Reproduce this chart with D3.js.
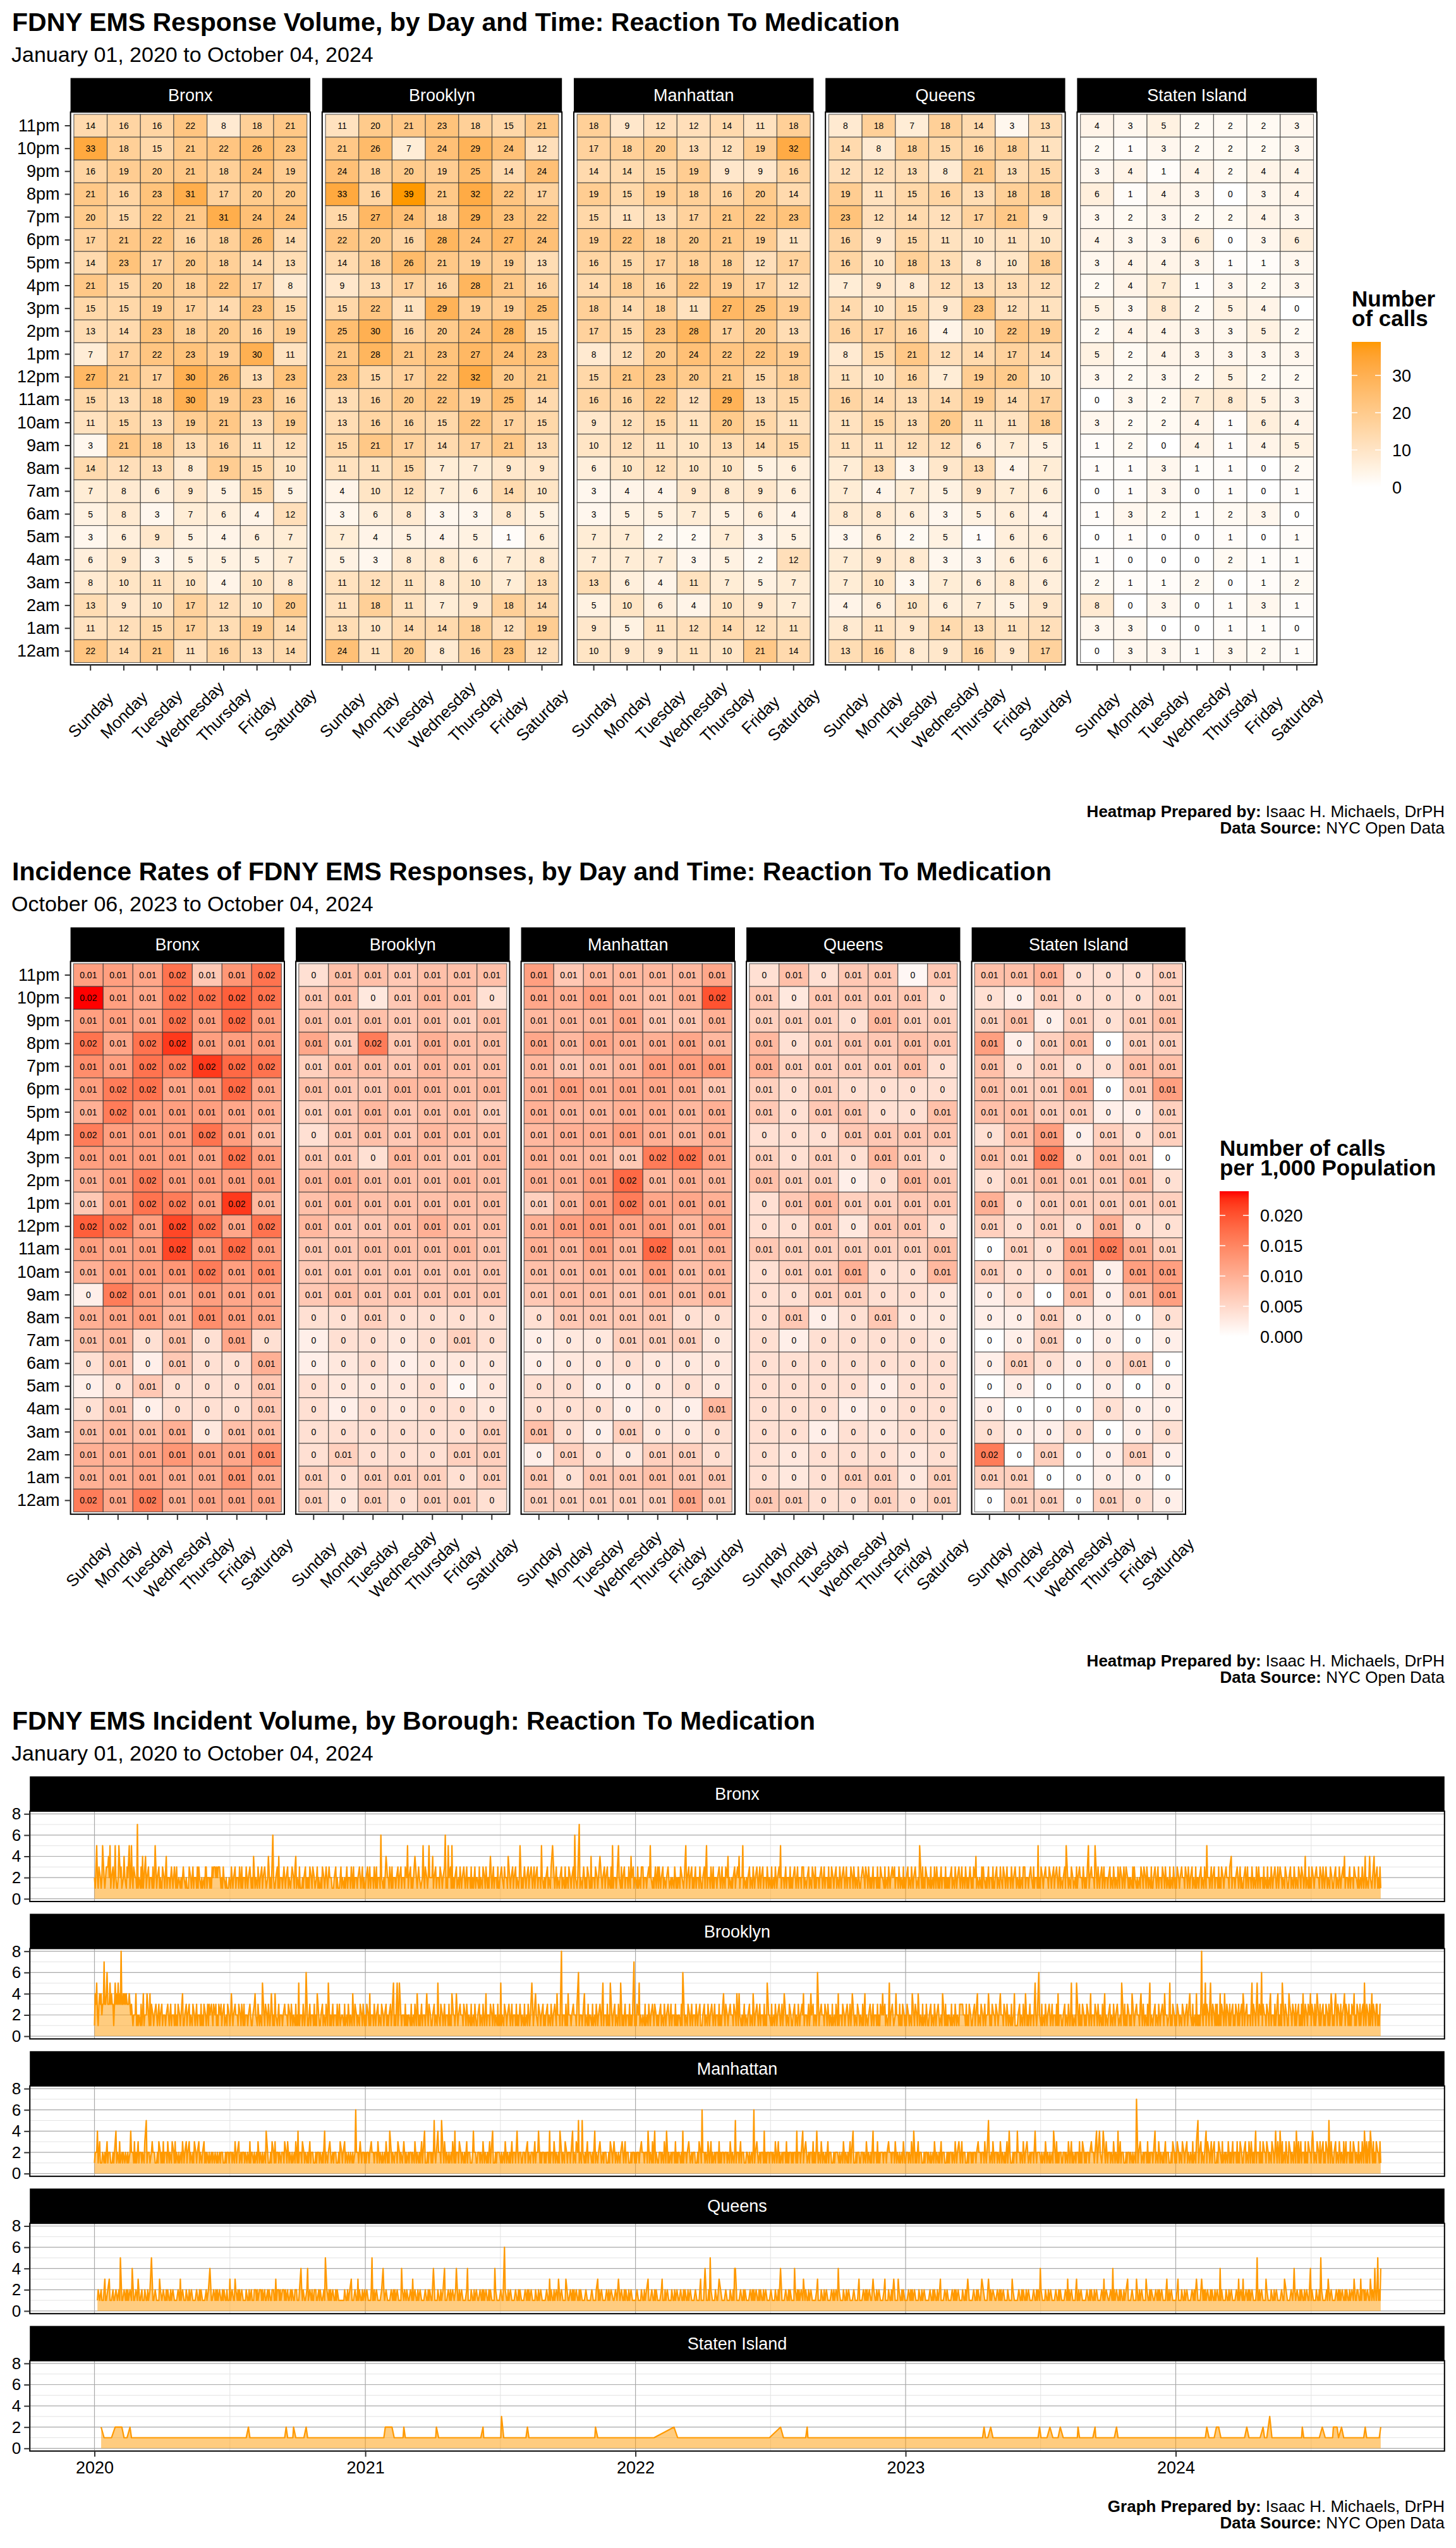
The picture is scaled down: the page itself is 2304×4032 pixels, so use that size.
<!DOCTYPE html>
<html>
<head>
<meta charset="utf-8">
<script src="https://cdn.jsdelivr.net/npm/d3@7"></script>
<style>
  body { margin: 0; background: #fff; }
  svg { display: block; }
  svg text { font-family: "Liberation Sans", Arial, Helvetica, sans-serif; }
</style>
</head>
<body>
<svg></svg>
<script>
// ---------- data ----------
const boroughs = ['Bronx', 'Brooklyn', 'Manhattan', 'Queens', 'Staten Island']
const dayLabels = ['Sunday', 'Monday', 'Tuesday', 'Wednesday', 'Thursday', 'Friday', 'Saturday']
// rows run top to bottom, 11pm first
const hourLabels = ['11pm', '10pm', '9pm', '8pm', '7pm', '6pm', '5pm', '4pm', '3pm', '2pm', '1pm', '12pm',
                    '11am', '10am', '9am', '8am', '7am', '6am', '5am', '4am', '3am', '2am', '1am', '12am']

// number of calls, Jan 2020 - Oct 2024
const countsBronx = [
  [14,16,16,22,8,18,21],[33,18,15,21,22,26,23],[16,19,20,21,18,24,19],[21,16,23,31,17,20,20],
  [20,15,22,21,31,24,24],[17,21,22,16,18,26,14],[14,23,17,20,18,14,13],[21,15,20,18,22,17,8],
  [15,15,19,17,14,23,15],[13,14,23,18,20,16,19],[7,17,22,23,19,30,11],[27,21,17,30,26,13,23],
  [15,13,18,30,19,23,16],[11,15,13,19,21,13,19],[3,21,18,13,16,11,12],[14,12,13,8,19,15,10],
  [7,8,6,9,5,15,5],[5,8,3,7,6,4,12],[3,6,9,5,4,6,7],[6,9,3,5,5,5,7],
  [8,10,11,10,4,10,8],[13,9,10,17,12,10,20],[11,12,15,17,13,19,14],[22,14,21,11,16,13,14]
]
const countsBrooklyn = [
  [11,20,21,23,18,15,21],[21,26,7,24,29,24,12],[24,18,20,19,25,14,24],[33,16,39,21,32,22,17],
  [15,27,24,18,29,23,22],[22,20,16,28,24,27,24],[14,18,26,21,19,19,13],[9,13,17,16,28,21,16],
  [15,22,11,29,19,19,25],[25,30,16,20,24,28,15],[21,28,21,23,27,24,23],[23,15,17,22,32,20,21],
  [13,16,20,22,19,25,14],[13,16,16,15,22,17,15],[15,21,17,14,17,21,13],[11,11,15,7,7,9,9],
  [4,10,12,7,6,14,10],[3,6,8,3,3,8,5],[7,4,5,4,5,1,6],[5,3,8,8,6,7,8],
  [11,12,11,8,10,7,13],[11,18,11,7,9,18,14],[13,10,14,14,18,12,19],[24,11,20,8,16,23,12]
]
const countsManhattan = [
  [18,9,12,12,14,11,18],[17,18,20,13,12,19,32],[14,14,15,19,9,9,16],[19,15,19,18,16,20,14],
  [15,11,13,17,21,22,23],[19,22,18,20,21,19,11],[16,15,17,18,18,12,17],[14,18,16,22,19,17,12],
  [18,14,18,11,27,25,19],[17,15,23,28,17,20,13],[8,12,20,24,22,22,19],[15,21,23,20,21,15,18],
  [16,16,22,12,29,13,15],[9,12,15,11,20,15,11],[10,12,11,10,13,14,15],[6,10,12,10,10,5,6],
  [3,4,4,9,8,9,6],[3,5,5,7,5,6,4],[7,7,2,2,7,3,5],[7,7,7,3,5,2,12],
  [13,6,4,11,7,5,7],[5,10,6,4,10,9,7],[9,5,11,12,14,12,11],[10,9,9,11,10,21,14]
]
const countsQueens = [
  [8,18,7,18,14,3,13],[14,8,18,15,16,18,11],[12,12,13,8,21,13,15],[19,11,15,16,13,18,18],
  [23,12,14,12,17,21,9],[16,9,15,11,10,11,10],[16,10,18,13,8,10,18],[7,9,8,12,13,13,12],
  [14,10,15,9,23,12,11],[16,17,16,4,10,22,19],[8,15,21,12,14,17,14],[11,10,16,7,19,20,10],
  [16,14,13,14,19,14,17],[11,15,13,20,11,11,18],[11,11,12,12,6,7,5],[7,13,3,9,13,4,7],
  [7,4,7,5,9,7,6],[8,8,6,3,5,6,4],[3,6,2,5,1,6,6],[7,9,8,3,3,6,6],
  [7,10,3,7,6,8,6],[4,6,10,6,7,5,9],[8,11,9,14,13,11,12],[13,16,8,9,16,9,17]
]
const countsStaten = [
  [4,3,5,2,2,2,3],[2,1,3,2,2,2,3],[3,4,1,4,2,4,4],[6,1,4,3,0,3,4],
  [3,2,3,2,2,4,3],[4,3,3,6,0,3,6],[3,4,4,3,1,1,3],[2,4,7,1,3,2,3],
  [5,3,8,2,5,4,0],[2,4,4,3,3,5,2],[5,2,4,3,3,3,3],[3,2,3,2,5,2,2],
  [0,3,2,7,8,5,3],[3,2,2,4,1,6,4],[1,2,0,4,1,4,5],[1,1,3,1,1,0,2],
  [0,1,3,0,1,0,1],[1,3,2,1,2,3,0],[0,1,0,0,1,0,1],[1,0,0,0,2,1,1],
  [2,1,1,2,0,1,2],[8,0,3,0,1,3,1],[3,3,0,0,1,1,0],[0,3,3,1,3,2,1]
]

// calls per 1,000 population, Oct 2023 - Oct 2024, in thousandths (estimated from the shading)
const ratesBronx = [
  [12,12,11,17,7,13,17],[24,12,11,17,17,19,17],[12,12,11,17,12,18,12],[17,11,17,22,12,12,12],
  [14,12,17,16,22,18,17],[12,16,17,11,12,18,11],[10,16,12,12,12,11,10],[16,12,12,12,17,12,8],
  [12,12,12,12,11,17,12],[10,12,16,12,12,12,12],[7,12,17,16,12,22,9],[19,17,12,21,17,11,17],
  [12,11,12,21,12,18,12],[10,12,12,13,16,12,14],[2,16,12,10,12,11,11],[10,11,12,9,14,12,11],
  [8,9,4,8,4,11,4],[4,7,2,7,4,4,10],[2,4,7,4,4,4,7],[4,7,2,4,4,4,7],
  [8,9,8,10,3,8,8],[10,10,11,13,11,11,14],[10,10,11,10,10,13,10],[16,11,16,10,11,11,11]
]
const ratesBrooklyn = [
  [4,8,8,7,8,8,8],[7,8,3,7,9,8,4],[8,7,8,7,8,6,8],[11,6,16,7,10,8,8],
  [6,8,8,7,9,8,8],[8,7,7,9,9,8,9],[6,7,9,7,8,8,6],[4,7,8,7,9,8,8],
  [7,7,4,9,8,7,9],[9,10,8,8,8,9,8],[8,9,8,8,8,8,8],[9,7,7,8,10,8,8],
  [7,7,8,8,8,9,7],[7,7,7,7,7,7,7],[7,8,7,7,7,7,7],[4,4,6,4,4,4,4],
  [2,4,4,3,4,6,4],[2,3,4,2,3,3,3],[4,3,3,3,4,1,3],[4,2,4,3,4,4,3],
  [4,4,4,4,4,4,6],[4,6,4,4,4,6,6],[6,4,6,6,6,4,6],[6,3,6,4,6,6,4]
]
const ratesManhattan = [
  [12,7,9,9,9,9,11],[11,10,12,9,8,10,20],[9,9,9,11,7,7,10],[11,9,11,10,10,11,9],
  [9,7,8,9,12,12,13],[10,12,10,11,11,10,7],[10,9,9,10,10,9,10],[9,10,10,12,10,9,10],
  [10,9,9,7,16,17,11],[10,10,12,18,9,10,9],[6,9,12,16,11,11,10],[10,12,13,11,12,9,11],
  [10,9,12,9,18,9,10],[8,8,9,8,12,8,9],[7,8,8,7,9,8,9],[4,7,7,7,7,4,4],
  [2,3,3,6,6,6,3],[2,3,3,4,3,3,3],[4,4,2,2,3,4,3],[4,4,4,2,3,2,9],
  [8,4,2,6,3,3,4],[2,6,4,3,6,6,4],[7,4,7,7,8,7,7],[6,6,6,6,6,11,6]
]
const ratesQueens = [
  [4,8,4,7,7,1,7],[7,3,7,7,7,7,4],[6,6,6,4,9,6,6],[9,4,6,7,7,8,7],
  [10,6,6,6,6,8,4],[6,4,6,4,4,4,4],[7,4,7,7,4,4,8],[4,4,4,7,7,7,7],
  [6,4,6,4,9,6,4],[8,6,6,2,4,9,7],[4,7,9,6,6,7,7],[4,4,7,3,7,7,4],
  [7,6,6,6,6,6,8],[4,6,6,10,4,4,9],[4,4,6,6,4,4,3],[4,7,2,4,7,3,3],
  [4,2,4,4,4,4,3],[4,4,4,4,4,4,4],[4,4,4,4,2,4,4],[4,4,4,2,3,4,4],
  [4,4,2,4,3,4,4],[4,3,4,4,4,3,4],[4,3,4,6,6,3,6],[7,6,4,4,6,4,6]
]
const ratesStaten = [
  [8,8,10,4,4,4,6],[4,2,6,4,4,4,6],[6,8,2,6,4,6,8],[12,2,6,8,0,6,6],
  [8,4,6,4,4,8,8],[8,6,6,10,0,6,12],[8,8,6,6,2,2,6],[4,8,12,2,6,4,6],
  [8,6,16,4,8,6,0],[4,6,8,6,6,8,4],[10,4,6,6,6,6,6],[6,4,6,4,10,4,4],
  [0,6,4,12,16,10,6],[6,4,4,10,2,12,12],[2,4,0,8,2,8,12],[2,2,6,2,2,0,4],
  [0,2,6,0,2,0,2],[2,6,4,2,4,6,0],[0,2,0,0,2,0,2],[2,0,0,0,4,2,2],
  [4,2,2,4,0,2,4],[16,0,6,0,2,6,2],[6,6,0,0,2,2,0],[0,6,6,0,6,4,2]
]

// daily incident counts, one string per month from Jan 2020 to Oct 2024 (0 = no incident that day)
const dailyBronx = [
  '21052 13021 25021 23034 25120 31252 1', '12502 31024 20132 05125 21302 2171', '20131 41204 12031 20213 12501 20312 1',
  '13021 04120 21032 12301 31020 12103', '20121 01302 10312 02131 32012 10213 3', '12021 21323 03232 30321 21320 12101',
  '20130 12031 20213 01312 02132 12032 1', '21401 20130 12031 20321 02401 21062 1', '12031 41202 10321 20312 01230 21341',
  '20131 01212 03121 21302 13021 02312 1', '12130 21032 10320 21012 03121 01231', '20121 03120 21301 31202 12032 10312 1',
  '12031 03120 21301 31202 16201 21040 2', '21301 31202 12031 20312 02130 251', '20312 12040 21232 01025 21302 12520 2',
  '24120 31202 13021 20361 21520 31512', '12031 02130 12032 10312 02131 21031 2', '20131 20130 21321 21040 10312 02131',
  '12032 01320 21402 12031 20312 01250 1', '21230 12031 20321 03120 31202 15201 2', '12031 20130 50212 31201 20312 01312',
  '21302 12031 62012 07120 12301 21302 1', '14120 21302 12040 21203 12031 20131', '51202 12052 01312 03120 21301 42031 2',
  '20131 02130 31202 12032 52012 10312 3', '13012 03120 12032 10212 01301 212', '21302 01205 12031 20312 10312 02130 1',
  '12031 05120 21301 31202 12032 10312', '21302 41201 21203 12032 41202 51201 2', '12031 20130 12032 10312 03120 21301',
  '20131 02130 12032 51202 10312 02131 2', '12032 10312 02130 31201 20312 01302 1', '31202 12032 10312 02131 21302 12031',
  '20130 12032 10312 02130 21301 20130 1', '12030 21302 13012 10312 02131 21302', '20131 02130 12032 03120 21301 20131 2',
  '12031 20130 12032 10215 02131 21302 1', '20131 02130 13012 10312 02131 212', '12031 20130 12032 10312 21301 21032 1',
  '21302 41201 20131 32012 10312 02131', '12031 20132 01302 10312 02130 12032 1', '20131 02130 31202 12032 01312 02151',
  '21302 12032 02130 21203 12032 10312 0', '12031 50212 01302 10213 12032 02130 1', '21205 12032 02150 21301 20312 31202',
  '12031 20130 12013 21302 10312 30212 1', '20131 32012 10213 02130 21301 20131', '12032 10312 02130 21301 20131 02132 1',
  '21302 12032 02130 21301 20312 01312 2', '12031 20130 15202 10312 03120 2131', '21302 12032 02130 41202 12032 10312 1',
  '12031 03120 21301 20130 13012 02131', '20131 02130 12032 10312 30212 01302 1', '12031 20130 12013 02130 21241 20131',
  '21302 12032 02130 21301 23012 01302 1', '12031 20130 12032 41202 10312 02130 2', '20131 02130 12412 01242 01204 12031',
  '2131'
]
const dailyBrooklyn = [
  '14352 13434 23373 34633 35343 31353 4', '35343 83343 43433 34323 21202 4121', '20131 24120 24021 41302 12032 10312 0',
  '31202 12032 10312 02131 21302 12041', '12031 20312 01302 10312 02131 21302 1', '23132 03213 02312 13023 12031 02130',
  '21240 12032 02130 21301 31202 12032 1', '12034 20130 12015 02130 21301 24012 1', '42012 31202 12032 02130 21301 20131',
  '21512 02130 12601 10312 02131 21402 1', '12031 20130 15012 10312 02131 23102', '20131 02130 12014 21302 12013 02130 1',
  '21302 14120 21301 20312 01302 12031 2', '12031 20512 10512 50212 02131 212', '20131 02130 14012 10312 02104 21302 1',
  '12031 20152 01302 10312 02131 21402', '21240 12032 02130 21301 20131 02130 1', '12031 20130 12412 02130 21301 20131',
  '21512 01302 12032 10312 02131 21232 1', '20131 02130 12050 12042 01302 12031 2', '12031 20130 12032 14202 10812 02131',
  '14202 12032 02130 61202 12041 20131 2', '20131 02130 12032 10512 02131 21502', '12031 20130 15012 10312 02131 21207 1',
  '21302 51201 20131 02130 12032 13021 2', '12031 20130 12032 10312 02131 212', '20131 60212 01302 10312 02130 12031 1',
  '12031 20130 12032 10312 02131 21204', '21302 12032 02130 21401 42012 10312 0', '12031 20140 12032 10312 02131 21502',
  '20131 02130 12032 10312 40212 01302 1', '12031 20130 12032 41202 10312 42031 2', '21260 12032 02130 21301 20131 02130',
  '14120 21302 12032 10312 40212 01302 1', '20131 04120 12032 10312 02131 21302', '42031 20125 12032 10242 02131 21302 1',
  '21302 12014 02130 21401 20131 02130 1', '12031 20130 12032 10214 02131 212', '20131 02130 12013 33332 02131 21302 1',
  '12031 20412 01302 10312 02401 21302', '21302 12042 02130 21301 20131 02410 1', '12031 20130 14012 10312 02105 21206',
  '20131 02130 12032 10312 02131 41202 1', '12031 20130 12512 10215 02131 21302 1', '21302 12412 02130 21301 20131 04120',
  '12031 20130 12032 10215 02131 21302 1', '21402 12032 02134 21301 20131 05120', '12031 20130 12032 14202 10251 21302 1',
  '21302 12013 02120 31204 20131 02141 2', '12138 21325 13021 35213 02131 3121', '41302 14213 02131 20312 13021 31203 1',
  '43120 31202 13513 02135 21302 61302', '21302 13412 02131 20412 13150 21302 1', '14302 13021 31203 12131 42130 21302',
  '41302 13124 02131 20312 13021 31243 1', '21340 13021 31203 41302 13121 30241 2', '13021 31203 15213 02131 24130 21331',
  '2133'
]
const dailyManhattan = [
  '12024 12310 12012 10312 02101 21204 1', '20131 02120 12012 10242 02131 2123', '12021 20130 51202 10232 02101 21302 1',
  '21312 02130 12013 02131 20121 02130', '12031 20312 01213 02120 31201 20312 1', '20121 02120 12012 10212 02101 21202',
  '12021 20130 12031 02120 21201 20131 2', '20121 02130 12012 10214 02101 21302 1', '31202 12012 02130 21301 20121 02130',
  '14120 21302 12012 10312 02101 21202 1', '20121 04120 12032 10212 02101 21302', '12031 20120 12012 10262 02103 21202 1',
  '21202 12032 02120 21301 20121 02130 1', '21402 12012 02130 21201 23012 102', '12021 20130 12012 10312 04101 21202 1',
  '21252 12042 02150 21301 20121 02130', '14120 21302 12012 10312 02101 24202 1', '12021 20130 12012 10312 04101 21202',
  '20121 02130 12012 10312 02104 21202 1', '12021 20312 01202 10312 02401 21202 1', '21202 14120 21301 20121 40212 01302',
  '12021 20412 01302 51201 52012 10312 0', '20121 04120 12032 10212 02101 21302', '12321 20120 12032 10312 02101 21202 1',
  '21202 12032 02120 21401 20131 04120 1', '12021 20130 14012 10212 02131 212', '20121 41202 12032 10212 02101 21302 1',
  '62021 20130 12312 10212 02131 21202', '12021 20130 12012 51202 10312 02101 2', '20121 02126 12032 10212 02141 21202',
  '12021 20130 12312 10212 02131 21202 1', '21202 14120 21204 12032 10212 02131 2', '12421 20130 12012 10312 02101 21202',
  '20121 02130 12012 10312 04101 21202 1', '12021 20130 12012 10412 02131 21202', '21202 12032 02120 21301 20121 02130 1',
  '12021 20130 14012 10312 02101 21202 1', '20121 02130 12012 10312 02101 212', '12021 20130 12032 10312 02101 21202 1',
  '21202 12032 02120 21301 20521 02130', '12021 20130 12012 10312 42101 21202 1', '42021 20130 12032 10212 02104 21202',
  '20121 02130 12012 10214 02131 21202 1', '12021 20130 12312 10212 02131 21302 1', '21202 12032 02120 41204 20124 02130',
  '12021 20130 12014 10312 02101 21202 1', '20121 02170 12032 10212 02131 21202', '12041 20130 12012 10312 02101 21302 1',
  '21302 12013 02120 31201 20131 02130 5', '12031 20120 41302 10312 03101 2130', '20131 02120 13012 10312 02131 21302 1',
  '12031 20130 13012 10412 02131 21302', '21302 12013 02124 21301 40131 02130 1', '13021 20130 14013 10312 02131 21302',
  '21340 12013 02131 20312 13021 52130 1', '12031 20130 12013 10312 02131 21302 1', '20131 02130 14013 10314 02131 21302',
  '2131'
]
const dailyQueens = [
  '00001 20102 10103 11020 31010 21102 0', '10215 01102 01212 10201 40110 2013', '01102 10120 11210 20501 10201 10132 0',
  '10201 12120 11210 20110 10201 31020', '10120 11210 20110 10201 12120 11010 2', '10204 01102 01212 10201 12120 11210',
  '13102 01132 01212 10201 10120 11210 2', '10120 21210 20212 10211 02120 11202 1', '13120 21210 20212 10211 02120 11202',
  '10120 42120 11024 10201 21120 21102 1', '20110 21502 01212 10201 12120 11010', '10120 11210 20310 10201 13120 11210 2',
  '10201 10125 11210 20110 10204 21020 1', '01102 01212 10201 10142 01201 201', '10201 31020 11210 20110 10201 12120 1',
  '10401 10120 11210 20410 10201 21020', '10240 11210 20110 10241 10120 11210 2', '01102 01212 10201 12120 11014 20110',
  '10201 10620 11210 20110 10201 12120 1', '01102 01212 10201 10120 11210 20110 1', '10201 13120 11210 20130 10201 10130',
  '01102 01212 10201 12120 11010 20110 1', '10201 10120 31210 20110 10201 21020', '01102 01032 10201 12120 11210 20110 1',
  '10201 10120 11210 20310 10201 12120 1', '01102 31012 10201 10120 11210 201', '10201 12120 11210 20110 10201 10123 1',
  '01104 01012 15201 10120 11030 20110', '10201 10120 11214 40110 10201 12120 1', '01102 01212 10201 12120 11210 20110',
  '10201 10120 11210 40110 10201 12120 1', '01142 01212 10201 30120 11210 20110 1', '10231 10120 11210 20110 10201 21020',
  '14201 10120 11210 20110 10201 10123 1', '01102 01212 10201 10320 11210 20110', '10231 10120 11210 30110 13201 12120 1',
  '01102 01212 10201 10120 11210 20110 1', '10201 12120 11210 23110 10201 201', '01102 01212 10201 10120 11210 30110 1',
  '10201 12120 11030 20110 10301 21020', '01102 01212 10201 10120 11013 20110 1', '10201 12120 11210 20110 10201 12120',
  '14201 10120 11210 20110 10201 12120 1', '01102 01312 10201 10123 11210 20110 1', '10201 12120 11210 20110 10201 31020',
  '01102 01412 10201 12120 11210 20310 1', '10201 10130 11210 20110 13201 12120', '01102 01212 10201 10123 11210 20110 1',
  '10231 10120 11210 20110 10201 21030 1', '01123 01212 10201 12120 11210 2011', '41201 10120 11210 20110 10201 31020 1',
  '31102 01212 10201 10125 11210 20110', '13201 10120 11210 20110 10201 13020 1', '01102 01242 10201 12120 11210 20110',
  '41201 10120 11215 20110 10213 21020 1', '01102 01212 10201 12120 11210 20132 1', '12201 13120 21210 20113 21201 42125',
  '1214'
]
const dailyStaten = [
  '00000 00002 00010 01000 10010 00020 2', '00200 02001 00010 00201 01000 1001', '00100 01000 10001 00010 01000 10010 0',
  '01000 10001 00100 01000 10010 00100', '00100 01000 10001 00010 01000 10010 0', '01000 10001 00100 01000 10010 00100',
  '00100 01000 10001 00010 01010 02010 0', '01000 10001 00100 01000 10010 00100 1', '00100 01000 10010 20100 01001 20010',
  '01000 10001 00201 00010 01000 10010 0', '00100 01000 10001 00010 01000 10010', '01000 10001 00100 01000 10010 00100 1',
  '00100 01000 10001 00010 01000 10200 0', '20000 20010 00100 01000 12010 001', '00100 01000 10001 00010 01000 10010 0',
  '01000 12001 00100 01000 10010 00100', '00100 01000 10001 00010 01000 10010 0', '01000 10021 00100 01000 10010 00100',
  '00130 01000 10001 00010 01000 10010 0', '01000 10201 00100 01000 10010 00100 1', '00100 01000 10001 00010 01000 10010',
  '01000 10001 00100 01000 10010 00100 1', '00100 01200 10001 00010 01000 10010', '01000 10001 00100 01000 10010 00100 1',
  '00100 01000 10001 00010 01000 10000 0', '00000 00000 00000 00000 02000 010', '00100 01000 10001 00010 01000 10010 0',
  '01000 10001 00100 01000 10010 00100', '00100 01000 10001 00010 01000 10010 0', '01000 10001 00100 01000 10010 00100',
  '10000 00000 00000 20001 00010 01000 1', '00100 01000 10001 00010 21000 10010 0', '01000 10001 00100 01000 10010 00100',
  '00100 01000 10001 00010 01000 10010 0', '01000 10001 00100 01000 10010 00100', '00100 01000 10001 00010 01000 10010 0',
  '01000 10001 00100 01000 10010 00100 1', '00100 01000 10001 00010 01000 100', '01000 10001 00100 01000 10010 00100 1',
  '00100 01000 10001 02010 01000 20010', '01000 10001 00100 01000 10010 00100 1', '00100 01000 10001 00010 01000 10010',
  '20100 01000 10002 00010 01000 10020 0', '01000 10001 00100 01000 12010 00100 1', '00100 01000 10021 00010 01000 10010',
  '01000 10001 00201 01000 10010 00100 1', '00100 01000 10001 00010 01000 10010', '01000 10001 00100 01000 10010 00100 1',
  '00100 01000 10001 00010 01000 10010 0', '01000 10001 02001 00100 01002 0020', '01000 01000 10001 00010 01000 10010 0',
  '00100 20010 00100 01000 10010 00201', '00100 03001 00100 01000 10010 00100 1', '00100 01000 10001 00012 01000 10010',
  '01000 10001 00100 02000 10010 00100 1', '20020 20100 02001 00010 01000 10010 0', '00100 01000 10201 00010 01000 10010',
  '0102'
]

// ---------- setup ----------
const width = 2304
const height = 4032

const svg = d3.select('svg')
              .attr('width', width)
              .attr('height', height)

const countSets = [countsBronx, countsBrooklyn, countsManhattan, countsQueens, countsStaten]
const rateSets = [ratesBronx, ratesBrooklyn, ratesManhattan, ratesQueens, ratesStaten]
const dailySets = [dailyBronx, dailyBrooklyn, dailyManhattan, dailyQueens, dailyStaten]

let addTitle = (top, title, subtitle) => {
    svg.append('text').attr('x', 19).attr('y', top + 49)
        .attr('font-size', 41).attr('font-weight', 'bold').text(title)
    svg.append('text').attr('x', 18).attr('y', top + 98)
        .attr('font-size', 34).text(subtitle)
}

let addCaption = (y, label) => {
    let t1 = svg.append('text').attr('x', 2286).attr('y', y)
        .attr('text-anchor', 'end').attr('font-size', 26)
    t1.append('tspan').attr('font-weight', 'bold').text(label + ' Prepared by:')
    t1.append('tspan').text(' Isaac H. Michaels, DrPH')
    let t2 = svg.append('text').attr('x', 2286).attr('y', y + 26)
        .attr('text-anchor', 'end').attr('font-size', 26)
    t2.append('tspan').attr('font-weight', 'bold').text('Data Source:')
    t2.append('tspan').text(' NYC Open Data')
}

let addColorbar = (cfg) => {
    const id = 'grad' + cfg.top
    const grad = svg.append('defs').append('linearGradient').attr('id', id)
        .attr('x1', 0).attr('y1', 1).attr('x2', 0).attr('y2', 0)
    d3.range(0, 1.0001, 0.05).forEach(t => {
        grad.append('stop').attr('offset', t).attr('stop-color', cfg.color(t * cfg.max))
    })
    const ly = d3.scaleLinear().domain([0, cfg.max]).range([cfg.top + 771, cfg.top + 541])
    cfg.titleLines.forEach((line, i) => {
        svg.append('text').attr('x', cfg.x).attr('y', cfg.top + 485 + i * 31)
            .attr('font-size', 35).attr('font-weight', 'bold').text(line)
    })
    svg.append('rect').attr('x', cfg.x).attr('y', ly(cfg.max))
        .attr('width', 46).attr('height', ly(0) - ly(cfg.max))
        .attr('fill', 'url(#' + id + ')')
    cfg.ticks.forEach(v => {
        svg.append('line').attr('x1', cfg.x).attr('x2', cfg.x + 9)
            .attr('y1', ly(v)).attr('y2', ly(v)).attr('stroke', 'white').attr('stroke-width', 1.5)
        svg.append('line').attr('x1', cfg.x + 37).attr('x2', cfg.x + 46)
            .attr('y1', ly(v)).attr('y2', ly(v)).attr('stroke', 'white').attr('stroke-width', 1.5)
        svg.append('text').attr('x', cfg.x + 64).attr('y', ly(v))
            .attr('dy', '0.36em').attr('font-size', 27).text(cfg.fmt(v))
    })
}

// ---------- heatmaps ----------
let drawHeatmap = (cfg) => {
    const panelTop = cfg.top + 177.3
    const panelH = 24.2 * 36.15
    const yScale = d3.scaleBand().domain(hourLabels)
                     .range([panelTop, panelTop + panelH]).paddingOuter(0.1)

    boroughs.forEach((name, i) => {
        const px = 111.6 + i * cfg.pitch
        const xScale = d3.scaleBand().domain(dayLabels)
                         .range([px, px + cfg.panelW]).paddingOuter(0.1)
        const g = svg.append('g')

        g.append('rect').attr('x', px).attr('y', cfg.top + 123.5)
            .attr('width', cfg.panelW).attr('height', panelTop - cfg.top - 123.5).attr('fill', 'black')
        g.append('text').attr('x', px + cfg.panelW / 2).attr('y', cfg.top + 150.5)
            .attr('dy', '0.36em').attr('text-anchor', 'middle')
            .attr('font-size', 27).attr('fill', 'white').text(name)

        let cells = []
        cfg.values[i].forEach((row, r) => row.forEach((v, c) => {
            cells.push({ hour: hourLabels[r], day: dayLabels[c], v: cfg.scaleValue(v) })
        }))

        g.selectAll('rect.tile').data(cells).enter().append('rect')
            .attr('class', 'tile')
            .attr('x', d => xScale(d.day))
            .attr('y', d => yScale(d.hour))
            .attr('width', xScale.bandwidth())
            .attr('height', yScale.bandwidth())
            .attr('fill', d => cfg.color(d.v))
            .attr('stroke', '#3a3a3a')
            .attr('stroke-opacity', 0.75)
            .attr('stroke-width', 1.2)

        g.selectAll('text.lbl').data(cells).enter().append('text')
            .attr('class', 'lbl')
            .attr('x', d => xScale(d.day) + xScale.bandwidth() / 2)
            .attr('y', d => yScale(d.hour) + yScale.bandwidth() / 2)
            .attr('dy', '0.36em')
            .attr('text-anchor', 'middle')
            .attr('font-size', 14)
            .text(d => cfg.fmt(d.v))

        g.append('rect').attr('x', px).attr('y', panelTop)
            .attr('width', cfg.panelW).attr('height', panelH)
            .attr('fill', 'none').attr('stroke', 'black').attr('stroke-width', 2)

        const xAxis = d3.axisBottom(xScale).tickSize(9)
        const ax = g.append('g')
            .attr('transform', 'translate(0,' + (panelTop + panelH) + ')')
            .call(xAxis)
        ax.select('.domain').remove()
        ax.selectAll('line').attr('stroke', '#333').attr('stroke-width', 2)
        ax.selectAll('text')
            .attr('y', 0).attr('dy', '0.36em')
            .attr('transform', 'translate(0,79) rotate(-45)')
            .attr('text-anchor', 'middle')
            .attr('font-size', 26).attr('fill', 'black')
            .attr('font-family', '"Liberation Sans", Arial, sans-serif')

        if (i === 0) {
            const yAxis = d3.axisLeft(yScale).tickSize(9).tickPadding(8)
            const ay = g.append('g')
                .attr('transform', 'translate(' + px + ',0)')
                .call(yAxis)
            ay.select('.domain').remove()
            ay.selectAll('line').attr('stroke', '#333').attr('stroke-width', 2)
            ay.selectAll('text').attr('font-size', 27).attr('fill', 'black')
                .attr('font-family', '"Liberation Sans", Arial, sans-serif')
        }
    })
}

// section 1: counts
const countMax = d3.max(countSets.flat(2))
const countColor = d3.scaleLinear().domain([0, countMax])
                     .range(['#ffffff', '#ff9900']).interpolate(d3.interpolateLab)
addTitle(0, 'FDNY EMS Response Volume, by Day and Time: Reaction To Medication',
         'January 01, 2020 to October 04, 2024')
drawHeatmap({ top: 0, panelW: 379.4, pitch: 398.2, values: countSets,
              scaleValue: v => v, color: countColor, fmt: v => v })
addColorbar({ top: 0, x: 2139, max: countMax, color: countColor,
              titleLines: ['Number', 'of calls'], ticks: [0, 10, 20, 30], fmt: d3.format('d') })
addCaption(1293, 'Heatmap')

// section 2: rates
const rateMax = d3.max(rateSets.flat(2)) / 1000
const rateColor = d3.scaleLinear().domain([0, rateMax])
                    .range(['#ffffff', '#ff0000']).interpolate(d3.interpolateLab)
addTitle(1344, 'Incidence Rates of FDNY EMS Responses, by Day and Time: Reaction To Medication',
         'October 06, 2023 to October 04, 2024')
drawHeatmap({ top: 1344, panelW: 338.4, pitch: 356.5, values: rateSets,
              scaleValue: v => v / 1000, color: rateColor,
              fmt: v => String(Math.round(v * 100) / 100) })
addColorbar({ top: 1344, x: 1930, max: rateMax, color: rateColor,
              titleLines: ['Number of calls', 'per 1,000 Population'],
              ticks: [0, 0.005, 0.01, 0.015, 0.02], fmt: d3.format('.3f') })
addCaption(2637, 'Heatmap')

// ---------- time series ----------
let parseDaily = (monthStrings) => {
    let out = []
    monthStrings.forEach((s, m) => {
        const digits = s.replace(/\s/g, '')
        const yr = 2020 + Math.floor(m / 12), mo = m % 12
        const nDays = new Date(yr, mo + 1, 0).getDate()
        for (let i = 0; i < Math.min(digits.length, nDays); i++) {
            const v = +digits[i]
            if (v > 0) out.push({ date: new Date(yr, mo, i + 1), v: v })
        }
    })
    return out
}

const startDate = new Date(2020, 0, 1)
const endDate = new Date(2024, 9, 4)
const tsX = d3.scaleTime().domain([startDate, endDate]).range([149.5, 2184.9])
const panelL = 47.2, panelR = 2285.8

addTitle(2688, 'FDNY EMS Incident Volume, by Borough: Reaction To Medication',
         'January 01, 2020 to October 04, 2024')

const majorX = d3.timeYear.range(new Date(2019, 0, 1), new Date(2026, 0, 2))
let minorX = []
for (let k = 0; k < majorX.length - 1; k++) {
    minorX.push(new Date((majorX[k].getTime() + majorX[k + 1].getTime()) / 2))
}
const inPanel = d => tsX(d) > panelL && tsX(d) < panelR

boroughs.forEach((name, i) => {
    const stripTop = 2811 + i * 217.4
    const pTop = stripTop + 55
    const pH = 143
    const y = d3.scaleLinear().domain([0, 8]).range([pTop + pH - 4.3, pTop + 4.3])
    const g = svg.append('g')
    const series = parseDaily(dailySets[i])

    g.append('rect').attr('x', panelL).attr('y', stripTop)
        .attr('width', panelR - panelL).attr('height', 55).attr('fill', 'black')
    g.append('text').attr('x', (panelL + panelR) / 2).attr('y', stripTop + 27.5)
        .attr('dy', '0.36em').attr('text-anchor', 'middle')
        .attr('font-size', 27).attr('fill', 'white').text(name)

    // grid
    ;[1, 3, 5, 7].forEach(v => g.append('line').attr('x1', panelL).attr('x2', panelR)
        .attr('y1', y(v)).attr('y2', y(v)).attr('stroke', '#e3e3e3').attr('stroke-width', 1))
    minorX.filter(inPanel).forEach(d => g.append('line').attr('x1', tsX(d)).attr('x2', tsX(d))
        .attr('y1', pTop).attr('y2', pTop + pH).attr('stroke', '#e3e3e3').attr('stroke-width', 1))
    ;[0, 2, 4, 6, 8].forEach(v => g.append('line').attr('x1', panelL).attr('x2', panelR)
        .attr('y1', y(v)).attr('y2', y(v)).attr('stroke', '#a8a8a8').attr('stroke-width', 1.2))
    majorX.filter(inPanel).forEach(d => g.append('line').attr('x1', tsX(d)).attr('x2', tsX(d))
        .attr('y1', pTop).attr('y2', pTop + pH).attr('stroke', '#a8a8a8').attr('stroke-width', 1.2))

    const area = d3.area().x(d => tsX(d.date)).y0(y(0)).y1(d => y(d.v))
    const line = d3.line().x(d => tsX(d.date)).y(d => y(d.v))
    g.append('path').datum(series).attr('d', area)
        .attr('fill', '#ff9900').attr('fill-opacity', 0.5)
    g.append('path').datum(series).attr('d', line)
        .attr('fill', 'none').attr('stroke', '#ff9900')
        .attr('stroke-width', 2.2).attr('stroke-linejoin', 'round')

    g.append('rect').attr('x', panelL).attr('y', pTop)
        .attr('width', panelR - panelL).attr('height', pH)
        .attr('fill', 'none').attr('stroke', 'black').attr('stroke-width', 2)

    const ay = g.append('g').attr('transform', 'translate(' + panelL + ',0)')
        .call(d3.axisLeft(y).tickValues([0, 2, 4, 6, 8]).tickSize(9).tickPadding(5))
    ay.select('.domain').remove()
    ay.selectAll('line').attr('stroke', '#333').attr('stroke-width', 2)
    ay.selectAll('text').attr('font-size', 26).attr('fill', 'black')
        .attr('font-family', '"Liberation Sans", Arial, sans-serif')

    if (i === boroughs.length - 1) {
        const ax = g.append('g').attr('transform', 'translate(0,' + (pTop + pH) + ')')
            .call(d3.axisBottom(tsX).ticks(d3.timeYear).tickFormat(d3.timeFormat('%Y'))
                    .tickSize(9).tickPadding(7))
        ax.select('.domain').remove()
        ax.selectAll('line').attr('stroke', '#333').attr('stroke-width', 2)
        ax.selectAll('text').attr('font-size', 27).attr('fill', 'black')
            .attr('font-family', '"Liberation Sans", Arial, sans-serif')
    }
})

addCaption(3975, 'Graph')
</script>
</body>
</html>
